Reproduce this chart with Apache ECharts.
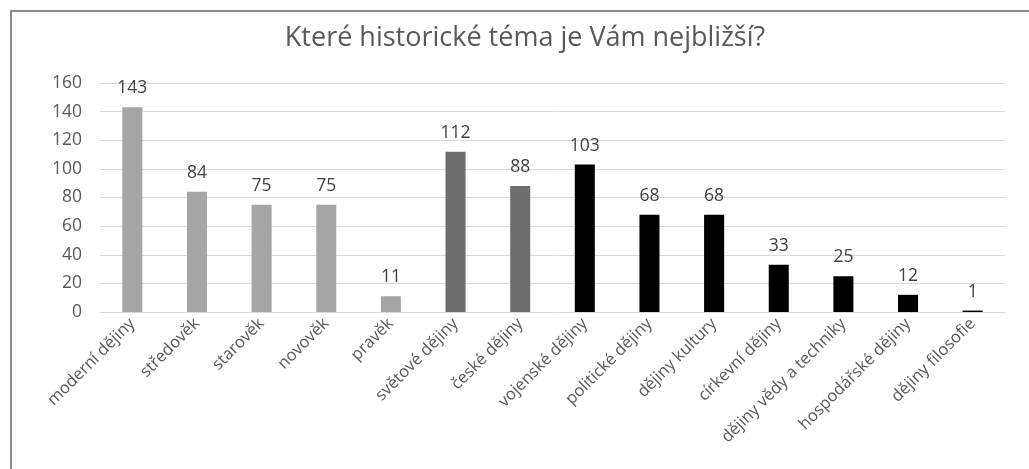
<!DOCTYPE html>
<html>
<head>
<meta charset="utf-8">
<script src="https://cdn.jsdelivr.net/npm/echarts@6/dist/echarts.min.js"></script>
<style>
  html, body { margin: 0; padding: 0; background: #fff; }
  #chart { width: 1029px; height: 469px; }
</style>
</head>
<body>
<div id="chart"></div>
<script>
// kategorie a počty odpovědí
var categories = ['moderní dějiny', 'středověk', 'starověk', 'novověk', 'pravěk',
    'světové dějiny', 'české dějiny', 'vojenské dějiny', 'politické dějiny',
    'dějiny kultury', 'církevní dějiny', 'dějiny vědy a techniky',
    'hospodářské dějiny', 'dějiny filosofie'];
var values = [143, 84, 75, 75, 11, 112, 88, 103, 68, 68, 33, 25, 12, 1];
// skupina barvy: 0 - období, 1 - rozsah, 2 - obor
var groups = [0, 0, 0, 0, 0, 1, 1, 2, 2, 2, 2, 2, 2, 2];
var groupColors = ['#a5a5a5', '#6e6e6e', '#000000'];

var font = '"Open Sans", "Noto Sans", sans-serif';

var option = {
    animation: false,
    title: {
        text: 'Které historické téma je Vám nejbližší?',
        left: 520,
        textAlign: 'center',
        top: 20,
        textStyle: {
            color: '#595959',
            fontSize: 27,
            fontWeight: 'normal',
            fontFamily: font
        }
    },
    graphic: [{
        type: 'rect',
        shape: { x: 11, y: 11, width: 1100, height: 600 },
        style: { fill: 'none', stroke: '#8c8c8c', lineWidth: 2 },
        silent: true
    }],
    grid: {
        left: 100,
        right: 24,
        top: 83,
        bottom: 157
    },
    xAxis: {
        type: 'category',
        data: categories,
        axisTick: { show: false },
        axisLine: { lineStyle: { color: '#d9d9d9', width: 1 } },
        axisLabel: {
            rotate: 45,
            interval: 0,
            margin: 9,
            color: '#595959',
            fontSize: 16.5,
            fontFamily: font
        }
    },
    yAxis: {
        type: 'value',
        min: 0,
        max: 160,
        interval: 20,
        axisLine: { show: false },
        axisTick: { show: false },
        splitLine: { lineStyle: { color: '#d9d9d9', width: 1 } },
        axisLabel: {
            margin: 18,
            color: '#595959',
            fontSize: 17.5,
            fontFamily: font
        }
    },
    series: [{
        type: 'bar',
        barWidth: '31%',
        data: values.map(function (v, i) {
            return { value: v, itemStyle: { color: groupColors[groups[i]] } };
        }),
        label: {
            show: true,
            position: 'top',
            distance: 10,
            color: '#404040',
            fontSize: 17.5,
            fontFamily: font
        }
    }]
};

var chart = echarts.init(document.getElementById('chart'));
chart.setOption(option);
</script>
</body>
</html>
